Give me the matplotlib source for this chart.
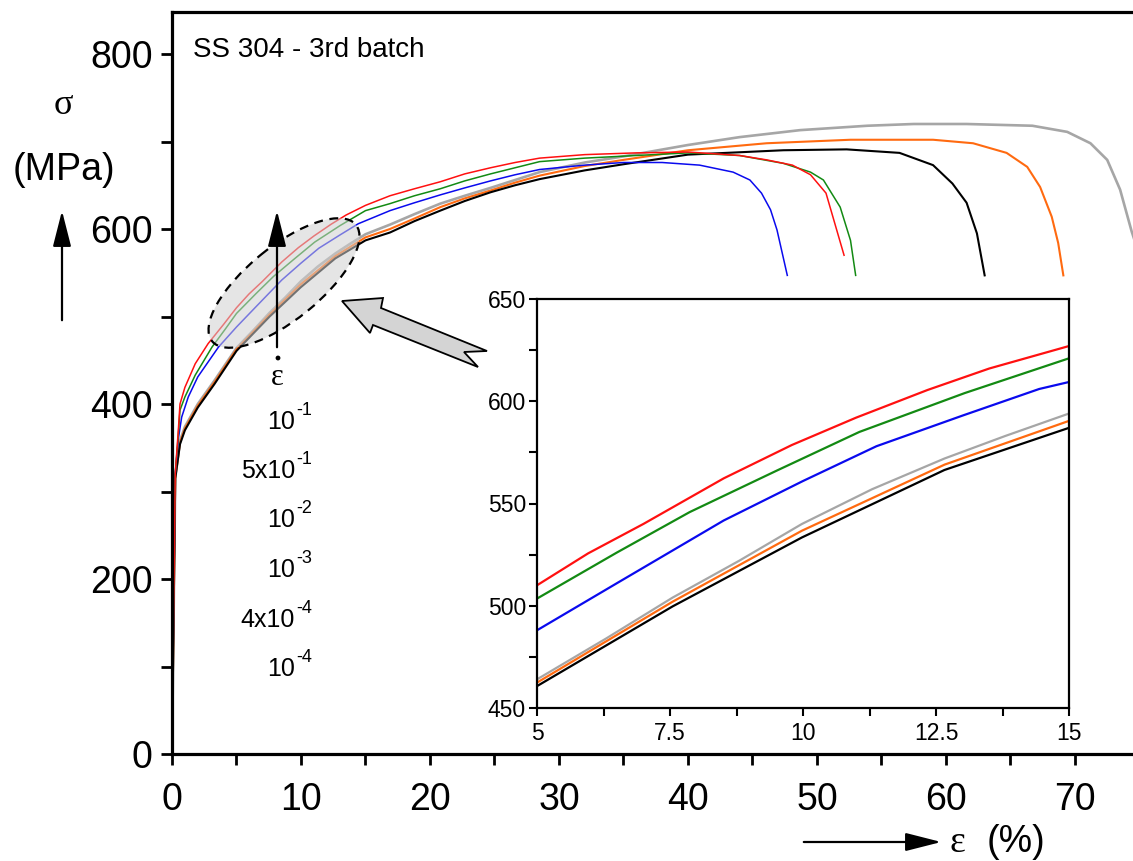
import matplotlib

matplotlib.use("Agg")
import matplotlib.pyplot as plt
from matplotlib.patches import Circle, Ellipse, FancyArrowPatch, Polygon
from matplotlib.ticker import MultipleLocator
from matplotlib.transforms import Affine2D

# strain (%) and stress (MPa), one pair of lists per rate
red_strain = [0, 0.25, 0.49, 0.62, 1.0, 1.8, 2.8, 4.0, 5.0, 5.96, 7.0, 8.51, 9.79, 11.0, 12.34,
              13.5, 15.0, 16.9, 18.8, 20.8, 22.7, 24.7, 26.6, 28.5, 32, 36, 40, 44, 46.1, 48.1,
              49.5, 50.7, 52.1]
red_stress = [0, 320, 370, 400, 419, 446, 469, 491, 510, 525.6, 540, 562.3, 578.6, 592, 605.5,
              616, 627, 638, 646, 654, 663, 670, 676, 681, 685, 687, 688, 684, 679, 673,
              662, 641, 570]

green_strain = [0, 0.25, 0.49, 0.62, 1.0, 1.8, 3.1, 4.1, 5.0, 6.5, 7.87, 9.5, 11.06, 13.04, 15,
                16.9, 18.8, 20.8, 22.7, 24.7, 26.6, 28.5, 32, 36, 40, 44, 47.4, 49.5, 50.5,
                51.8, 52.6, 53.0]
green_stress = [0, 320, 365, 393, 408, 433, 465, 485, 503.5, 526, 545.8, 566, 585, 604, 621,
                629, 638, 646, 655, 663, 670, 677, 681, 684, 687, 684, 675, 665, 656,
                625, 587, 547]

blue_strain = [0, 0.25, 0.49, 0.75, 1.26, 2.0, 3.6, 5.0, 6.5, 8.51, 10, 11.38, 13, 14.44, 16.9,
               18.8, 20.8, 22.7, 24.7, 26.6, 28.5, 32, 35, 38, 40.9, 43.5, 44.8, 45.7, 46.4,
               46.9, 47.7]
blue_stress = [0, 320, 360, 385, 408, 431, 465, 488, 511, 541.7, 561, 578, 593, 606, 621,
               630, 639, 647, 655, 662, 668, 673, 676, 676, 673, 665, 656, 641, 622,
               599, 547]

gray_strain = [0, 0.25, 0.62, 1.0, 2.0, 3.3, 5.0, 6.3, 7.55, 8.8, 9.98, 11.3, 12.66, 13.8, 15,
               16.9, 18.8, 20.8, 22.7, 24.7, 26.6, 28.5, 32, 35, 40, 44, 48.7, 53.9, 57.5, 61.6,
               66.7, 69.4, 71.2, 72.5, 73.5, 74.4, 75.0]
gray_stress = [0, 315, 358, 374, 400, 427, 464, 484, 504, 522, 540, 557, 572, 583, 594,
               605, 617, 629, 638, 647, 656, 665, 676, 683, 696, 705, 713, 718, 720, 720,
               718, 711, 698, 679, 645, 597, 570]

orange_strain = [0, 0.25, 0.62, 1.0, 2.0, 3.3, 5, 7.55, 9.98, 12.66, 15, 16.9, 18.8, 20.8, 22.7,
                 24.7, 26.6, 28.5, 32, 35, 40, 46.1, 52.6, 59, 62.1, 64.7, 66.3, 67.3, 68.2,
                 68.7, 69.1]
orange_stress = [0, 315, 356, 372, 398, 425, 462.4, 502, 536.7, 569, 590.4, 600, 612, 625, 635,
                 644, 653, 661, 672, 679, 690, 698, 702, 702, 698, 687, 671, 648, 614,
                 584, 547]

black_strain = [0, 0.25, 0.62, 1.0, 2.0, 3.3, 5, 7.55, 9.98, 12.66, 15, 16.9, 18.8, 20.8, 22.7,
                24.7, 26.6, 28.5, 32, 35, 40, 47.4, 52.3, 56.4, 59, 60.5, 61.6, 62.4, 63.0]
black_stress = [0, 315, 354, 370, 396, 423, 460.7, 499.7, 533.4, 566.4, 587, 596, 609, 621, 632,
                642, 650, 657, 667, 674, 685, 690, 691, 687, 673, 652, 630, 595, 547]

# strain rate legend: mantissa part and exponent part
rate_bases = ["10", "5x10", "10", "10", "4x10", "10"]
rate_exponents = ["-1", "-1", "-2", "-3", "-4", "-4"]

main_xticks = [0, 10, 20, 30, 40, 50, 60, 70]
main_yticks = [0, 200, 400, 600, 800]
inset_xticks = [5, 7.5, 10, 12.5, 15]
inset_xlabels = ["5", "7.5", "10", "12.5", "15"]
inset_yticks = [450, 500, 550, 600, 650]

# (strain, stress, colour, main linewidth), drawn back to front
CURVES = [
    (gray_strain, gray_stress, "#a6a6a6", 1.9),
    (orange_strain, orange_stress, "#ff6a10", 1.5),
    (black_strain, black_stress, "black", 1.5),
    (blue_strain, blue_stress, "#0a0aee", 1.1),
    (green_strain, green_stress, "#138a13", 1.1),
    (red_strain, red_stress, "#ff1010", 1.1),
]

W, H = 1133, 861


def setup_main(ax):
    ax.set_xlim(0, 74.5)
    ax.set_ylim(0, 848)
    ax.spines["right"].set_visible(False)
    for side in ("left", "bottom", "top"):
        ax.spines[side].set_linewidth(2.3)
    ax.set_xticks(main_xticks)
    ax.set_yticks(main_yticks)
    ax.xaxis.set_minor_locator(MultipleLocator(5))
    ax.yaxis.set_minor_locator(MultipleLocator(100))
    ax.tick_params(which="both", direction="out", length=8, width=2.0,
                   top=False, right=False, labelsize=27)
    ax.tick_params(axis="x", pad=12)
    ax.tick_params(axis="y", pad=6)


def setup_inset(ax):
    ax.set_xlim(5, 15)
    ax.set_ylim(450, 650)
    for side in ax.spines:
        ax.spines[side].set_linewidth(1.6)
    ax.set_xticks(inset_xticks)
    ax.set_xticklabels(inset_xlabels)
    ax.set_yticks(inset_yticks)
    ax.xaxis.set_minor_locator(MultipleLocator(1.25))
    ax.yaxis.set_minor_locator(MultipleLocator(25))
    ax.tick_params(which="both", direction="out", length=6, width=1.5,
                   top=False, right=False, labelsize=16.5)
    ax.tick_params(axis="x", pad=4)
    ax.tick_params(axis="y", pad=2)


def main():
    plt.rcParams["font.family"] = ["Liberation Sans", "DejaVu Sans"]

    fig = plt.figure(figsize=(W / 100, H / 100), dpi=100)
    # image pixel coordinates (origin top left)
    px = Affine2D().scale(0.01, -0.01).translate(0, H / 100) + fig.dpi_scale_trans

    ax = fig.add_axes([172 / W, (H - 754) / H, (W - 172) / W, (754 - 12) / H])
    for strain, stress, color, lw in CURVES:
        ax.plot(strain, stress, color=color, linewidth=lw, zorder=2)
    setup_main(ax)

    axin = fig.add_axes([537 / W, (H - 708) / H, (1069 - 537) / W, (708 - 299) / H])
    for strain, stress, color, lw in CURVES:
        axin.plot(strain, stress, color=color, linewidth=1.6)
    setup_inset(axin)

    fig.text(193, 57, "SS 304 - 3rd batch", fontsize=20, transform=px, va="baseline")

    arrow_style = "-|>,head_length=1.1,head_width=0.28"

    # y-axis label with arrow
    fig.text(63, 105, "σ", fontsize=26, family="Liberation Serif", transform=px,
             ha="center", va="center")
    fig.text(64, 170, "(MPa)", fontsize=27, transform=px, ha="center", va="center")
    fig.add_artist(FancyArrowPatch((62, 323), (62, 208), transform=px, arrowstyle=arrow_style,
                                   mutation_scale=20, color="black", lw=1.6))

    # x-axis label with arrow
    fig.add_artist(FancyArrowPatch((801, 842), (944, 842), transform=px, arrowstyle=arrow_style,
                                   mutation_scale=20, color="black", lw=1.6))
    fig.text(957, 843, "ε", fontsize=27, family="Liberation Serif", transform=px,
             ha="center", va="center")
    fig.text(1016, 842, "(%)", fontsize=27, transform=px, ha="center", va="center")

    # highlighted zone and pointer to the inset
    fig.add_artist(Ellipse((284, 283), 185, 73, angle=-39, transform=px,
                           facecolor=(0.82, 0.82, 0.82, 0.55), edgecolor="black",
                           linestyle=(0, (4, 3)), linewidth=1.6, zorder=3))
    arrow_pts = [(342, 301), (383, 298), (381, 308), (487, 351), (464, 352),
                 (478, 367), (373, 325), (370, 333)]
    fig.add_artist(Polygon(arrow_pts, closed=True, transform=px, facecolor="#d4d4d4",
                           edgecolor="black", linewidth=1.3, zorder=3))

    # strain rate legend: epsilon with a dot above
    fig.add_artist(FancyArrowPatch((277, 350), (277, 208), transform=px, arrowstyle=arrow_style,
                                   mutation_scale=20, color="black", lw=1.6, zorder=4))
    fig.text(277, 385, "ε", fontsize=22, family="Liberation Serif", transform=px,
             ha="center", va="baseline")
    fig.add_artist(Circle((278, 358), 1.7, transform=px, color="black"))
    baselines = [429, 478, 527, 577, 627, 676]
    for base, exponent, y in zip(rate_bases, rate_exponents, baselines):
        fig.text(295, y, base, fontsize=18, transform=px, ha="right", va="baseline")
        fig.text(296, y - 14, exponent, fontsize=13, transform=px, ha="left", va="baseline")

    fig.savefig("out.png", dpi=100)
    plt.close(fig)


if __name__ == "__main__":
    main()
